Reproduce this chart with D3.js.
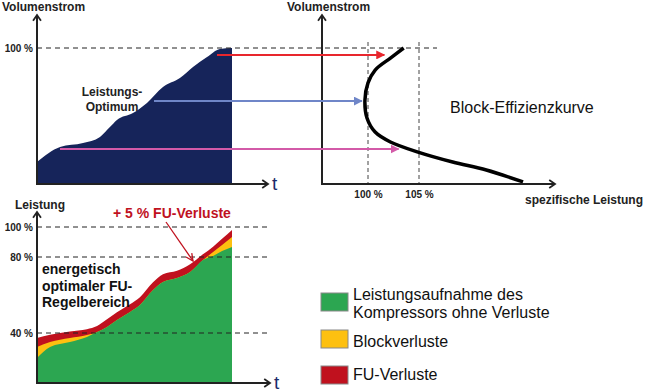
<!DOCTYPE html>
<html>
<head>
<meta charset="utf-8">
<script src="https://cdn.jsdelivr.net/npm/d3@7"></script>
<style>
  body { margin: 0; background: #fff; }
  text { font-family: "Liberation Sans", Arial, sans-serif; }
</style>
</head>
<body>
<div id="chart"></div>
<script>
// Volumenstrom ueber die Zeit (oben links)
var flowTime = [0, 11.8, 23.6, 32.3, 37.4, 41, 49.2, 56.4, 64.6, 73.3, 80, 87.2, 93.8, 100];
var flowValues = [16.2, 27.2, 30.1, 34.6, 41.9, 47.1, 52.2, 59.6, 71.3, 77.9, 86, 93.4, 99.3, 100];

// Block-Effizienzkurve: spezifische Leistung (%) gegen Volumenstrom (%)
var effPower = [103.5, 102.2, 100.7, 100, 99.7, 99.9, 100.7, 102.2, 104.9, 108.3, 111.6, 115.2];
var effFlow = [100, 92.6, 83.8, 74.3, 61.8, 48.5, 38.2, 30.9, 23.5, 16.2, 10.3, 1.5];

// Pfeile: Volumenstrom, Start (t) und Ende (spez. Leistung)
var arrowFlow = [94.9, 61, 25.7];
var arrowStart = [92.3, 60, 11.8];
var arrowEnd = [101.6, 99.4, 103.0];

// Leistung ueber die Zeit (unten), gestapelt
var powerTime = [0, 6.7, 16.9, 25.6, 30.8, 35.9, 41, 47.7, 52.8, 59.5, 64.6, 71.8, 78.5, 85.1, 90.3, 94.9, 100];
var compressor = [20.0, 28.8, 32.8, 36.8, 40.5, 43.2, 46.8, 51.1, 54.7, 62.6, 66.8, 68.9, 72.1, 78.4, 80.7, 84, 86.7];
var blockLoss = [8.8, 4.0, 3.2, 1.6, 0, 0, 0, 0, 0, 0, 0, 0, 0, 0, 2.6, 4, 6.6];
var fuLoss = [7.2, 5.8, 4.8, 3.6, 3.2, 4.0, 4.1, 4.0, 4.1, 4.1, 4.1, 3.8, 4.1, 3.4, 3.6, 4.1, 4.7];

// Ticks und Beschriftungen
var flowTicks = [100];
var effTicks = [100, 105];
var powerTicks = [40, 80, 100];
var legendLabels = [["Leistungsaufnahme des", "Kompressors ohne Verluste"], ["Blockverluste"], ["FU-Verluste"]];

var colors = {
  navy: "#16245a",
  green: "#2ca651",
  yellow: "#fdc010",
  red: "#c0111e",
  arrows: ["#e8262d", "#6f86c8", "#d35aa8"],
  tText: "#1c2b6a"
};

var svg = d3.select("#chart")
  .append("svg")
  .attr("width", 650)
  .attr("height", 392);

// arrowhead markers
var defs = svg.append("defs");
colors.arrows.forEach(function (c, i) {
  defs.append("marker")
    .attr("id", "ah" + i)
    .attr("viewBox", "0 0 10 10")
    .attr("refX", 9).attr("refY", 5)
    .attr("markerWidth", 4.5).attr("markerHeight", 4.5)
    .attr("orient", "auto")
    .append("path")
    .attr("d", "M0,0 L10,5 L0,10 Z")
    .attr("fill", c);
});

// open chevron at end of an axis
function axisArrow(g, x1, y1, x2, y2) {
  var ang = Math.atan2(y2 - y1, x2 - x1);
  var len = 7, spread = 0.6;
  g.append("line")
    .attr("x1", x1).attr("y1", y1).attr("x2", x2).attr("y2", y2)
    .attr("stroke", "#222").attr("stroke-width", 2);
  g.append("path")
    .attr("d", "M" + (x2 - len * Math.cos(ang - spread)) + "," + (y2 - len * Math.sin(ang - spread)) +
      " L" + x2 + "," + y2 +
      " L" + (x2 - len * Math.cos(ang + spread)) + "," + (y2 - len * Math.sin(ang + spread)))
    .attr("fill", "none").attr("stroke", "#222").attr("stroke-width", 1.8);
}

// Step 1: scales
// ==============================
var xTime = d3.scaleLinear().domain([0, 100]).range([37, 232]);
var yFlow = d3.scaleLinear().domain([0, 100]).range([184, 48]);
var xEff = d3.scaleLinear().domain([100, 105]).range([368, 419]);
var yPower = d3.scaleLinear().domain([0, 40, 80, 100]).range([383, 333, 257, 227]);

// Step 2: top left area (Volumenstrom)
// ==============================
var flowData = flowTime.map(function (t, i) { return { t: t, v: flowValues[i] }; });
var topPanel = svg.append("g");

topPanel.append("path")
  .datum(flowData)
  .attr("fill", colors.navy)
  .attr("d", d3.area()
    .x(d => xTime(d.t))
    .y0(yFlow(0))
    .y1(d => yFlow(d.v))
    .curve(d3.curveMonotoneX));

// 100 % dashed line across both panels
topPanel.selectAll(".grid")
  .data(flowTicks)
  .enter()
  .append("line")
  .attr("x1", xTime(0)).attr("x2", 437)
  .attr("y1", d => yFlow(d)).attr("y2", d => yFlow(d))
  .attr("stroke", "#222").attr("stroke-width", 1)
  .attr("stroke-dasharray", "5,4");

var flowAxis = topPanel.append("g")
  .attr("transform", "translate(" + xTime(0) + ",0)")
  .call(d3.axisLeft(yFlow).tickValues(flowTicks).tickSize(0).tickPadding(4).tickFormat(d => d + " %"));
flowAxis.select(".domain").remove();
flowAxis.selectAll("text").attr("font-size", 10).attr("font-weight", "bold").attr("fill", "#222")
  .style("font-family", "'Liberation Sans', Arial, sans-serif");

axisArrow(topPanel, xTime(0), yFlow(0) + 1, xTime(0), 15);
axisArrow(topPanel, xTime(0) - 1, yFlow(0), 268, yFlow(0));

topPanel.append("text").attr("x", 2).attr("y", 11)
  .attr("font-size", 12).attr("font-weight", "bold").attr("fill", "#222")
  .text("Volumenstrom");
topPanel.append("text").attr("x", 272).attr("y", 190)
  .attr("font-size", 19).attr("fill", colors.tText)
  .text("t");

topPanel.append("text").attr("text-anchor", "middle")
  .attr("font-size", 12).attr("font-weight", "bold").attr("fill", "#222")
  .selectAll("tspan")
  .data(["Leistungs-", "Optimum"])
  .enter()
  .append("tspan")
  .attr("x", 112)
  .attr("y", (d, i) => 96 + i * 15)
  .text(d => d);

// Step 3: right panel (Block-Effizienzkurve)
// ==============================
var rightPanel = svg.append("g");

rightPanel.selectAll(".vgrid")
  .data(effTicks)
  .enter()
  .append("line")
  .attr("x1", d => xEff(d)).attr("x2", d => xEff(d))
  .attr("y1", 42).attr("y2", yFlow(0))
  .attr("stroke", "#444").attr("stroke-width", 1)
  .attr("stroke-dasharray", "4,3");

var effData = effPower.map(function (p, i) { return { p: p, v: effFlow[i] }; });
rightPanel.append("path")
  .datum(effData)
  .attr("fill", "none")
  .attr("stroke", "#000")
  .attr("stroke-width", 3.5)
  .attr("d", d3.line()
    .x(d => xEff(d.p))
    .y(d => yFlow(d.v))
    .curve(d3.curveCatmullRom));

var effAxis = rightPanel.append("g")
  .attr("transform", "translate(0," + yFlow(0) + ")")
  .call(d3.axisBottom(xEff).tickValues(effTicks).tickSize(0).tickPadding(7).tickFormat(d => d + " %"));
effAxis.select(".domain").remove();
effAxis.selectAll("text").attr("font-size", 10).attr("font-weight", "bold").attr("fill", "#222")
  .style("font-family", "'Liberation Sans', Arial, sans-serif");

axisArrow(rightPanel, 322, yFlow(0) + 1, 322, 15);
axisArrow(rightPanel, 321, yFlow(0), 555, yFlow(0));

rightPanel.append("text").attr("x", 287).attr("y", 11)
  .attr("font-size", 12).attr("font-weight", "bold").attr("fill", "#222")
  .text("Volumenstrom");
rightPanel.append("text").attr("x", 525).attr("y", 204)
  .attr("font-size", 12).attr("font-weight", "bold").attr("fill", "#222")
  .text("spezifische Leistung");
rightPanel.append("text").attr("x", 450).attr("y", 113)
  .attr("font-size", 16).attr("fill", "#111")
  .text("Block-Effizienzkurve");

// arrows from time curve to efficiency curve
svg.append("g").selectAll("line")
  .data(arrowFlow)
  .enter()
  .append("line")
  .attr("x1", (d, i) => xTime(arrowStart[i]))
  .attr("x2", (d, i) => xEff(arrowEnd[i]))
  .attr("y1", d => yFlow(d))
  .attr("y2", d => yFlow(d))
  .attr("stroke", (d, i) => colors.arrows[i])
  .attr("stroke-width", 2)
  .attr("marker-end", (d, i) => "url(#ah" + i + ")");

// Step 4: bottom panel (Leistung)
// ==============================
var bottomPanel = svg.append("g");
var powerData = powerTime.map(function (t, i) {
  return { t: t, comp: compressor[i], block: blockLoss[i], fu: fuLoss[i] };
});
var stack = d3.stack().keys(["comp", "block", "fu"]);
var layers = stack(powerData);
var layerColors = [colors.green, colors.yellow, colors.red];

// draw from top layer down so each is a filled band
bottomPanel.selectAll(".layer")
  .data(layers.slice().reverse())
  .enter()
  .append("path")
  .attr("fill", d => layerColors[d.index])
  .attr("d", d3.area()
    .x(d => xTime(d.data.t))
    .y0(yPower(0))
    .y1(d => yPower(d[1]))
    .curve(d3.curveMonotoneX));

bottomPanel.selectAll(".grid")
  .data(powerTicks)
  .enter()
  .append("line")
  .attr("x1", xTime(0)).attr("x2", 267)
  .attr("y1", d => yPower(d)).attr("y2", d => yPower(d))
  .attr("stroke", "#222").attr("stroke-width", 1)
  .attr("stroke-dasharray", "5,4");

var powerAxis = bottomPanel.append("g")
  .attr("transform", "translate(" + xTime(0) + ",0)")
  .call(d3.axisLeft(yPower).tickValues(powerTicks).tickSize(0).tickPadding(4).tickFormat(d => d + " %"));
powerAxis.select(".domain").remove();
powerAxis.selectAll("text").attr("font-size", 10).attr("font-weight", "bold").attr("fill", "#222")
  .style("font-family", "'Liberation Sans', Arial, sans-serif");

axisArrow(bottomPanel, xTime(0), yPower(0) + 1, xTime(0), 212);
axisArrow(bottomPanel, xTime(0) - 1, yPower(0), 270, yPower(0));

bottomPanel.append("text").attr("x", 15).attr("y", 209)
  .attr("font-size", 12).attr("font-weight", "bold").attr("fill", "#222")
  .text("Leistung");
bottomPanel.append("text").attr("x", 274).attr("y", 389)
  .attr("font-size", 19).attr("fill", colors.tText)
  .text("t");

bottomPanel.append("text")
  .attr("font-size", 14).attr("font-weight", "bold").attr("fill", "#111")
  .selectAll("tspan")
  .data(["energetisch", "optimaler FU-", "Regelbereich"])
  .enter()
  .append("tspan")
  .attr("x", 42)
  .attr("y", (d, i) => 274 + i * 16.5)
  .text(d => d);

// annotation
bottomPanel.append("text").attr("x", 113).attr("y", 218)
  .attr("font-size", 14).attr("font-weight", "bold").attr("fill", colors.red)
  .text("+ 5 % FU-Verluste");
bottomPanel.append("line")
  .attr("x1", 166).attr("y1", 222).attr("x2", 193).attr("y2", 261)
  .attr("stroke", colors.red).attr("stroke-width", 1.3);
(function () {
  var x2 = 193, y2 = 261, ang = Math.atan2(261 - 222, 193 - 166), len = 8, s = 0.45;
  bottomPanel.append("path")
    .attr("d", "M" + (x2 - len * Math.cos(ang - s)) + "," + (y2 - len * Math.sin(ang - s)) +
      " L" + x2 + "," + y2 +
      " L" + (x2 - len * Math.cos(ang + s)) + "," + (y2 - len * Math.sin(ang + s)))
    .attr("fill", "none").attr("stroke", colors.red).attr("stroke-width", 1.3);
})();

// Step 5: legend
// ==============================
var legendY = [293, 330, 366];
var legendBase = [[300, 318], [347], [380]];
var legend = svg.append("g");
legendLabels.forEach(function (lines, i) {
  legend.append("rect")
    .attr("x", 321).attr("y", legendY[i])
    .attr("width", 27).attr("height", 18)
    .attr("fill", layerColors[i])
    .attr("stroke", "#888").attr("stroke-width", 1);
  legend.append("text")
    .attr("font-size", 16).attr("fill", "#111")
    .selectAll("tspan")
    .data(lines)
    .enter()
    .append("tspan")
    .attr("x", 353)
    .attr("y", (d, j) => legendBase[i][j])
    .text(d => d);
});
</script>
</body>
</html>
